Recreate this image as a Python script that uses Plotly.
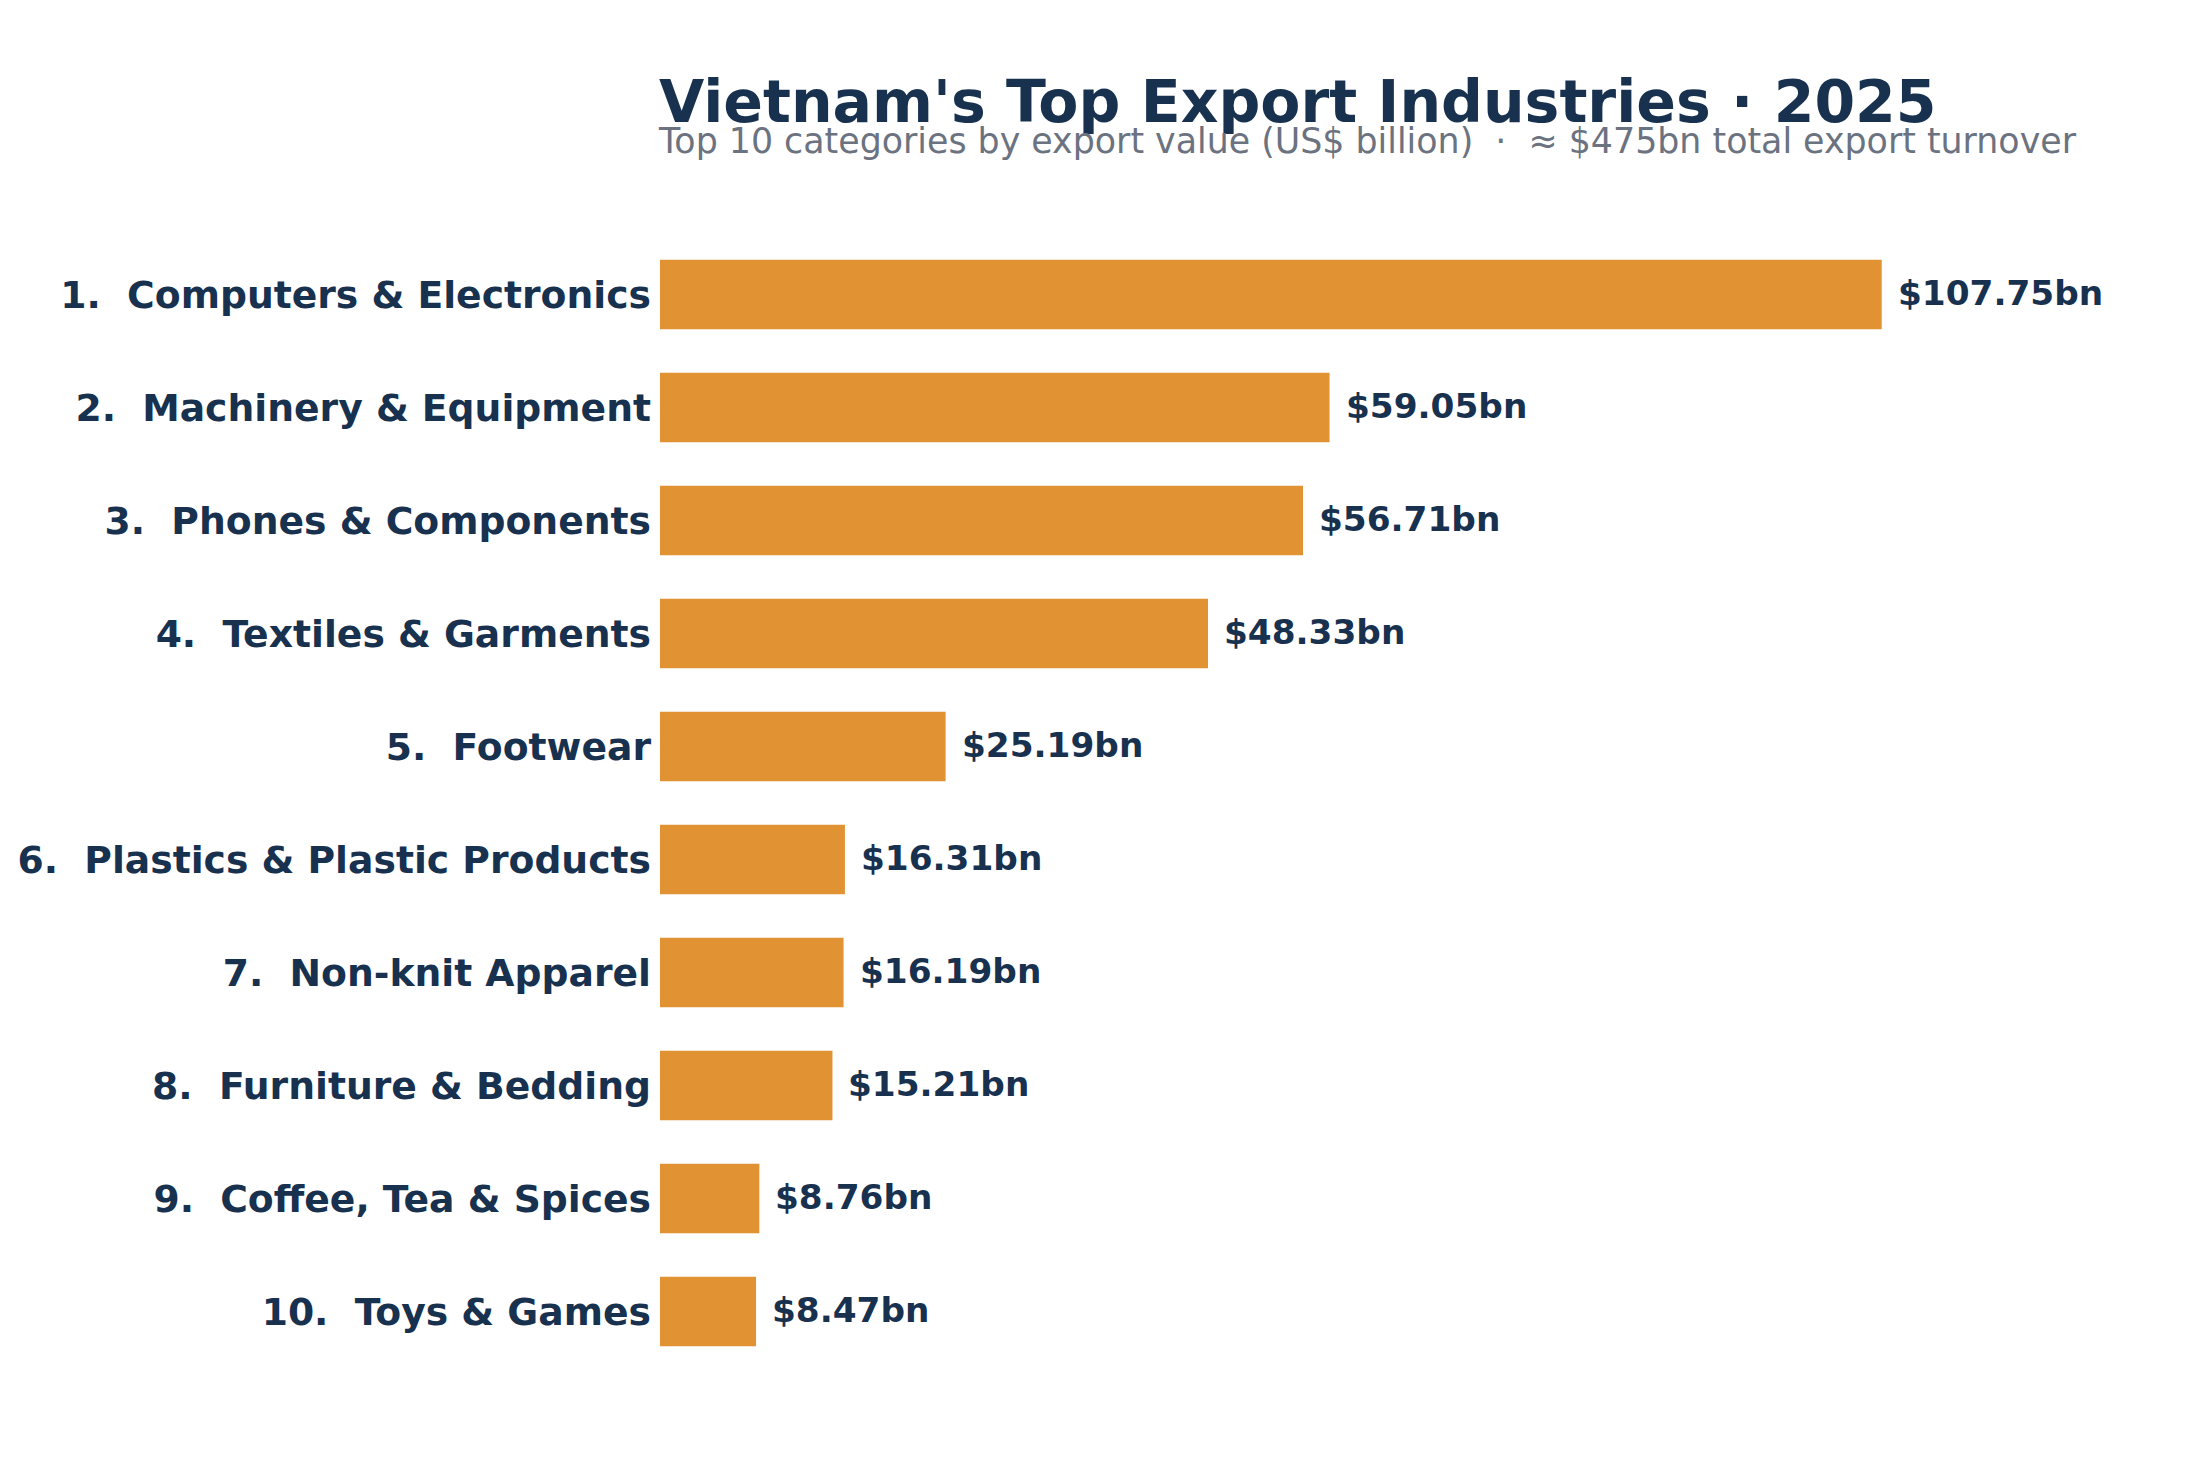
import plotly.graph_objects as go

categories = [
    "Computers & Electronics",
    "Machinery & Equipment",
    "Phones & Components",
    "Textiles & Garments",
    "Footwear",
    "Plastics & Plastic Products",
    "Non-knit Apparel",
    "Furniture & Bedding",
    "Coffee, Tea & Spices",
    "Toys & Games",
]
values = [107.75, 59.05, 56.71, 48.33, 25.19, 16.31, 16.19, 15.21, 8.76, 8.47]
value_labels = [f"${v:.2f}bn" for v in values]
tick_labels = [f"{i}.\u00a0\u00a0{c}" for i, c in enumerate(categories, start=1)]

title_text = "Vietnam's Top Export Industries · 2025"
subtitle_text = "Top 10 categories by export value (US$ billion)\u00a0\u00a0·\u00a0\u00a0≈ $475bn total export turnover"

NAVY = "#17314F"
BAR = "#E19334"
GRAY = "#6B7280"
FONT = "DejaVu Sans"

W, H = 2200, 1460
top, bottom = 237.5, 91.5
plot_h = H - top - bottom


def py(px):
    return (H - bottom - px) / plot_h


fig = go.Figure()
fig.add_trace(go.Bar(
    x=values,
    y=tick_labels,
    orientation="h",
    marker=dict(color=BAR, line=dict(width=0)),
    hoverinfo="skip",
))

annotations = []
for lab, v, t in zip(tick_labels, values, value_labels):
    annotations.append(dict(
        x=v, y=lab, xref="x", yref="y", text=t, showarrow=False,
        xanchor="left", yanchor="middle", xshift=14, yshift=2,
        font=dict(family=FONT, size=34.3, color=NAVY, weight="bold"),
    ))

annotations.append(dict(
    x=0, y=py(101), xref="paper", yref="paper", text=title_text,
    showarrow=False, xanchor="left", yanchor="middle", xshift=-3,
    font=dict(family=FONT, size=58.5, color=NAVY, weight="bold"),
))
annotations.append(dict(
    x=0, y=py(140), xref="paper", yref="paper", text=subtitle_text,
    showarrow=False, xanchor="left", yanchor="middle", xshift=-4,
    font=dict(family=FONT, size=34.8, color=GRAY),
))

fig.update_layout(
    width=W, height=H,
    margin=dict(l=660, r=100, t=top, b=bottom),
    paper_bgcolor="white", plot_bgcolor="white",
    showlegend=False,
    bargap=0.385,
    annotations=annotations,
    xaxis=dict(range=[0, 127], visible=False, showgrid=False, zeroline=False),
    yaxis=dict(
        autorange="reversed", showgrid=False, zeroline=False, showline=False,
        ticks="", ticklabelstandoff=8,
        tickfont=dict(family=FONT, size=37.7, color=NAVY, weight="bold"),
    ),
)

fig.write_html("out.html")
